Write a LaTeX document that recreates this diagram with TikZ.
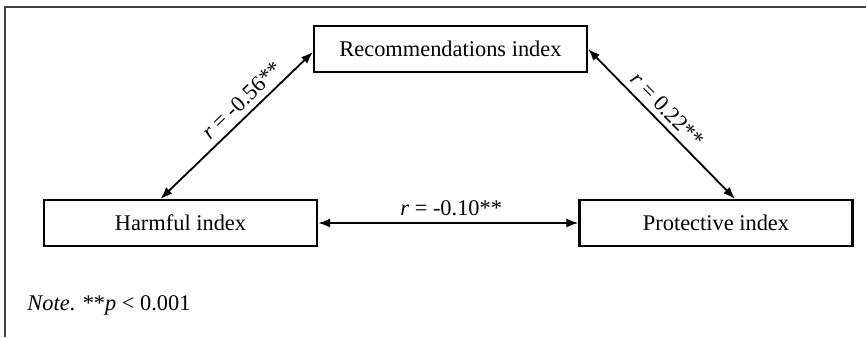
\documentclass[tikz,border=0pt]{standalone}
\usepackage{fontspec}
\setmainfont{Liberation Serif}
\usetikzlibrary{arrows.meta}

\begin{document}
\begin{tikzpicture}[x=0.5pt,y=-0.5pt,
  box/.style={draw,line width=1.1pt,minimum width=136.5pt,minimum height=23pt,inner sep=0pt,font=\fontsize{11.2}{13}\selectfont},
  cor/.style={{Latex[length=6pt,width=4.5pt]}-{Latex[length=6pt,width=4.5pt]},line width=0.9pt},
  lab/.style={font=\fontsize{11.2}{13}\selectfont,inner sep=3pt}]
\useasboundingbox (0,0) rectangle (866,337);
\draw[line width=1pt,black!75] (5,337) -- (5,7) -- (866,7);
\node[box] (rec) at (450.5,49) {Recommendations index};
\node[box] (harm) at (180.5,223) {Harmful index};
\node[box] (prot) at (716,223) {Protective index};
\node[lab,anchor=base west,inner sep=0pt] (note) at (27,310) {\textit{Note}. **\textit{p} < 0.001};
\draw[cor] ([xshift=-10pt]harm.north) -- node[lab,sloped,above,pos=0.6] {\textit{r} = -0.56**} ([yshift=-1.5pt]rec.west);
\draw[cor] (rec.east) -- node[lab,sloped,above,pos=0.47] {\textit{r} = 0.22**} ([xshift=9.5pt]prot.north);
\draw[cor] (harm) -- node[lab,above,xshift=1.5pt] {\textit{r} = -0.10**} (prot);
\end{tikzpicture}
\end{document}
